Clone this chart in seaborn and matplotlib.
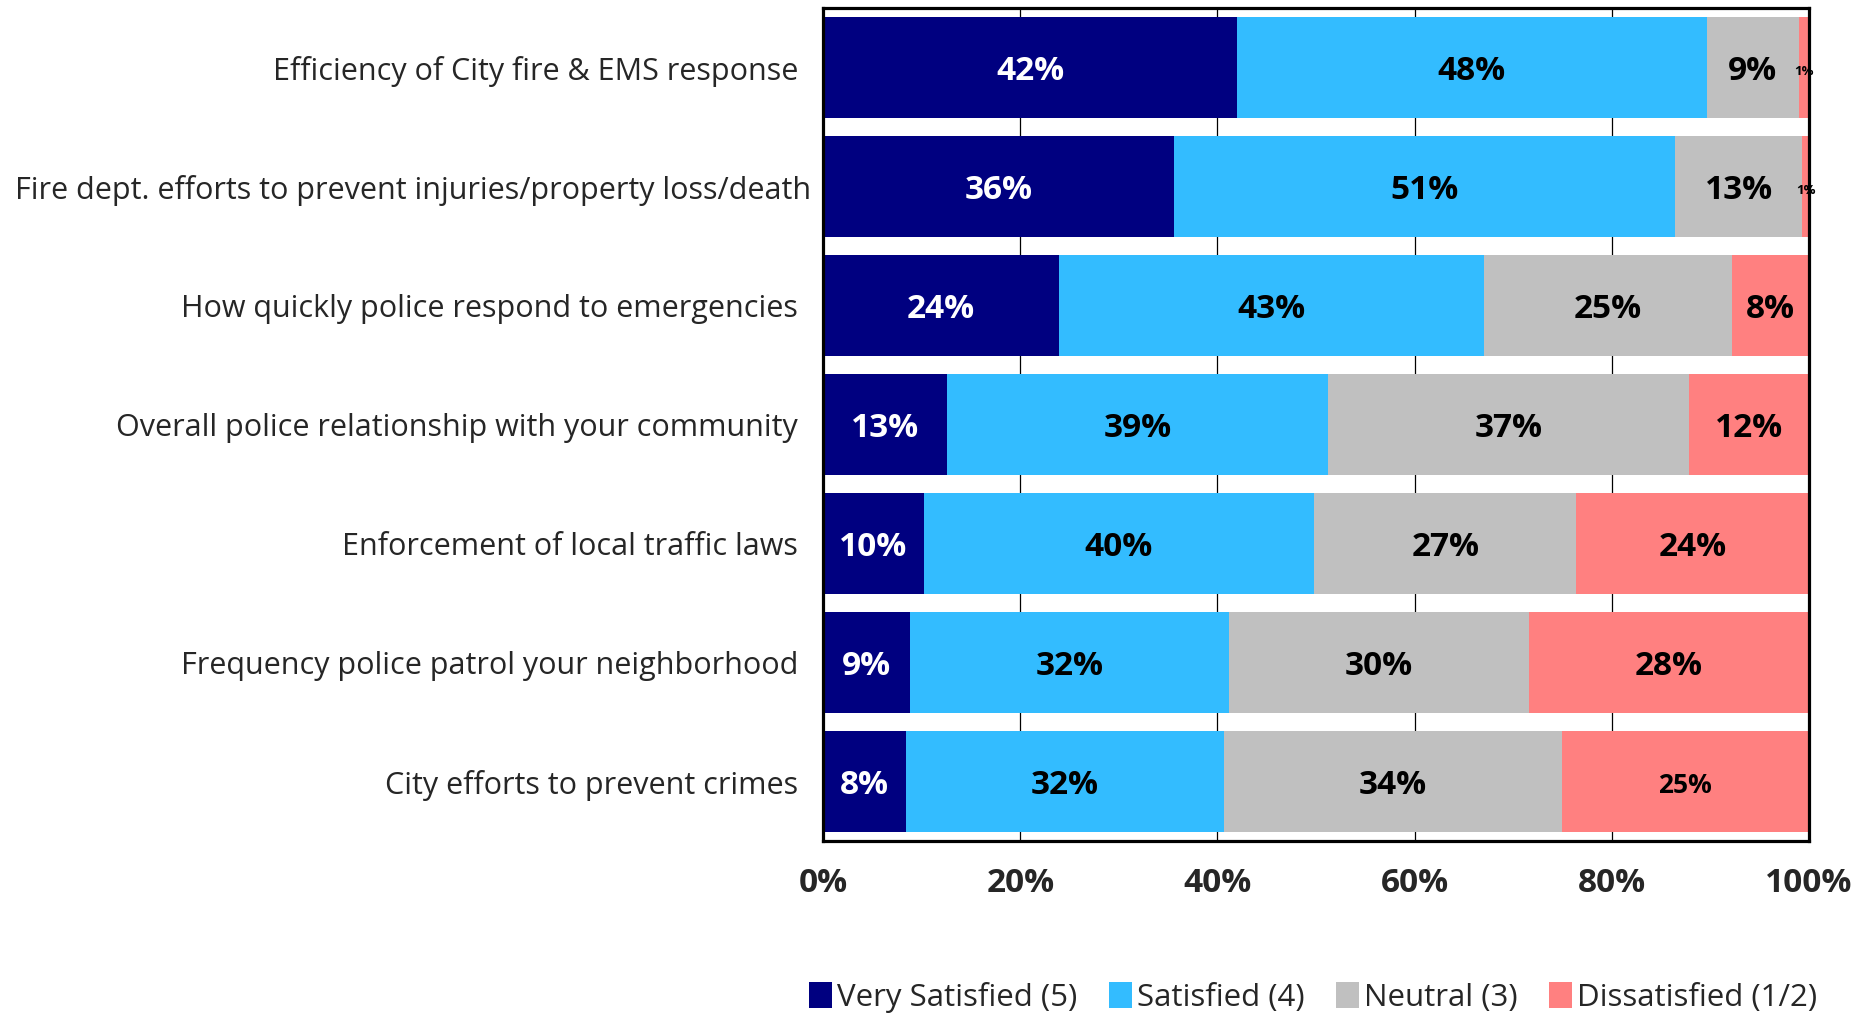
import numpy as np
import pandas as pd
import matplotlib
matplotlib.use("Agg")
import matplotlib.pyplot as plt
from matplotlib.patches import Patch
from matplotlib.ticker import FuncFormatter
from matplotlib.transforms import ScaledTranslation
import seaborn as sns

# Survey items (top to bottom) and satisfaction shares in percent
items = [
    "Efficiency of City fire & EMS response",
    "Fire dept. efforts to prevent injuries/property loss/death",
    "How quickly police respond to emergencies",
    "Overall police relationship with your community",
    "Enforcement of local traffic laws",
    "Frequency police patrol your neighborhood",
    "City efforts to prevent crimes",
]
levels = ["Very Satisfied (5)", "Satisfied (4)", "Neutral (3)", "Dissatisfied (1/2)"]
very_satisfied = [42.0, 35.6, 23.9, 12.6, 10.2, 8.8, 8.4]
satisfied = [47.6, 50.8, 43.1, 38.6, 39.6, 32.4, 32.3]
neutral = [9.4, 12.9, 25.2, 36.6, 26.6, 30.4, 34.2]
dissatisfied = [1.0, 0.7, 7.8, 12.2, 23.6, 28.4, 25.1]
x_ticks = [0, 20, 40, 60, 80, 100]

colors = ["#000080", "#33BCFF", "#C0C0C0", "#FF8080"]
text_colors = ["white", "black", "black", "black"]

df = pd.DataFrame(
    {
        "item": items,
        levels[0]: very_satisfied,
        levels[1]: satisfied,
        levels[2]: neutral,
        levels[3]: dissatisfied,
    }
)
cum = df[levels].cumsum(axis=1)

sns.set_theme(style="white")
plt.rcParams["font.family"] = ["Open Sans", "DejaVu Sans"]

fig = plt.figure(figsize=(18.71, 10.15), dpi=100)
ax = fig.add_axes([0.4399, 0.1714, 0.5270, 0.8207])

# Stacked bars: draw cumulative totals from the outermost level inward
for i in range(len(levels) - 1, -1, -1):
    sns.barplot(
        data=cum.assign(item=df["item"]),
        x=levels[i],
        y="item",
        orient="h",
        color=colors[i],
        saturation=1,
        width=0.85,
        linewidth=0,
        ax=ax,
        zorder=2,
    )

# Percentage labels centred in each segment
for r in range(len(items)):
    start = 0.0
    for i, lvl in enumerate(levels):
        v = df.loc[r, lvl]
        size = 24
        if v < 3:
            size = 9.5
        elif r == len(items) - 1 and i == 3:
            size = 19
        ax.text(
            start + v / 2, r + 0.03, f"{v:.0f}%",
            ha="center", va="center",
            color=text_colors[i], fontsize=size, fontweight="bold",
            zorder=3,
        )
        start += v

ax.set_xlim(0, 100)
ax.set_ylim(len(items) - 0.5, -0.5)
ax.set_xticks(x_ticks)
ax.xaxis.set_major_formatter(FuncFormatter(lambda x, _: f"{x:.0f}%"))
ax.set_xlabel("")
ax.set_ylabel("")

ax.set_axisbelow(True)
ax.xaxis.grid(True, color="black", linewidth=0.9, zorder=0)
ax.yaxis.grid(False)

for s in ax.spines.values():
    s.set_visible(True)
    s.set_color("black")
    s.set_linewidth(2.3)

ax.tick_params(axis="x", length=0, pad=19, labelsize=24)
ax.tick_params(axis="y", length=0, pad=18, labelsize=22)
for lab in ax.get_xticklabels():
    lab.set_fontweight("bold")

# The longest item label runs a little closer to the axis
long_lab = ax.get_yticklabels()[1]
long_lab.set_transform(long_lab.get_transform() + ScaledTranslation(0.13, 0, fig.dpi_scale_trans))

handles = [Patch(facecolor=c, edgecolor="none", label=l) for c, l in zip(colors, levels)]
fig.legend(
    handles=handles,
    loc="center",
    bbox_to_anchor=(0.7017, 0.017),
    ncol=4,
    frameon=False,
    fontsize=22.5,
    handlelength=0.75,
    handleheight=0.9,
    handletextpad=0.15,
    columnspacing=1.0,
)

fig.savefig("out.png", dpi=100, facecolor="white")
